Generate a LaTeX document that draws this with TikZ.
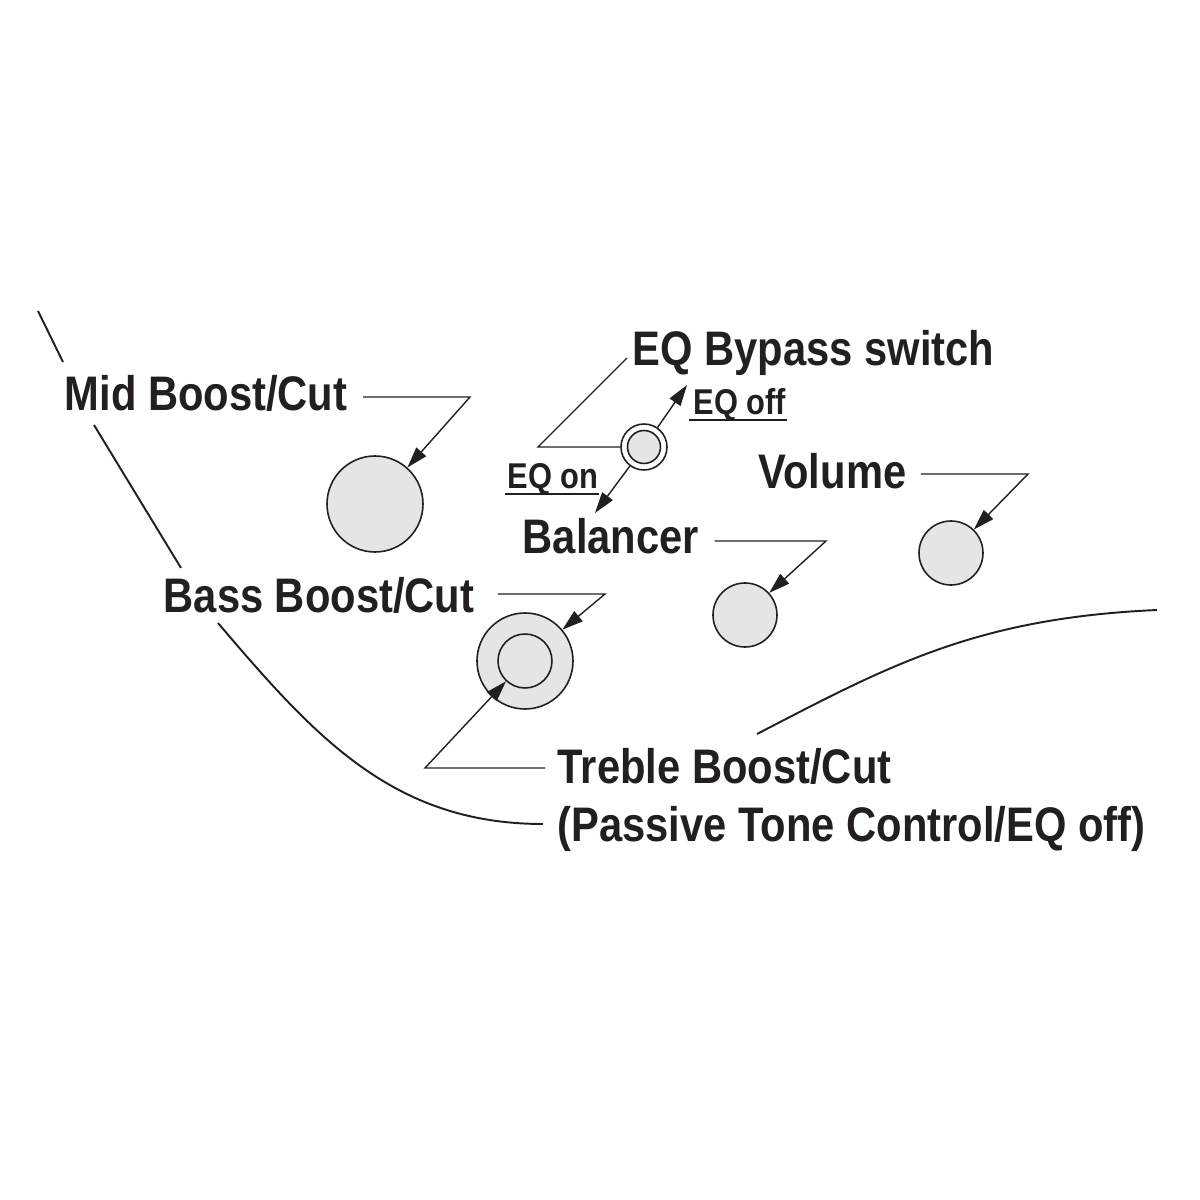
\documentclass[tikz,border=0pt]{standalone}
\usepackage{fontspec}
\setmainfont{Liberation Sans}[FakeStretch=0.86]
\usetikzlibrary{arrows.meta}
\definecolor{inkblack}{RGB}{35,31,32}
\definecolor{knobgray}{RGB}{228,229,231}

\begin{document}
\begin{tikzpicture}[
    knob/.style={circle, draw=inkblack, fill=knobgray, line width=0.45pt, inner sep=0pt},
    lbl/.style={anchor=base west, inner sep=0pt, text=inkblack, font=\bfseries\fontsize{13.8}{16}\selectfont},
    small/.style={anchor=base west, inner sep=0pt, text=inkblack, font=\bfseries\fontsize{10.2}{12}\selectfont},
    leader/.style={inkblack, line width=0.4pt, -{Triangle[length=2.1mm, width=1.3mm]}},
    plain/.style={inkblack, line width=0.4pt},
    body/.style={inkblack, line width=0.55pt}
]
    \useasboundingbox (0,0) rectangle (12,12);

    % Body outline
    \draw[body] (0.38,8.89) -- (0.63,8.38);
    \draw[body] (0.94,7.75) -- (1.81,6.32);
    \draw[body] (2.18,5.77) .. controls (3.15,4.63) and (3.93,3.76) .. (5.43,3.76);
    \draw[body] (7.57,4.66) .. controls (8.90,5.35) and (9.77,5.82) .. (11.57,5.90);

    % Knobs and switch
    \node[knob, minimum size=0.96cm] (mid) at (3.75,6.96) {};
    \node[knob, minimum size=0.96cm] (bass) at (5.25,5.39) {};
    \node[knob, minimum size=0.54cm] (treble) at (5.25,5.39) {};
    \node[knob, minimum size=0.64cm] (bal) at (7.45,5.85) {};
    \node[knob, minimum size=0.64cm] (vol) at (9.51,6.47) {};
    \node[knob, fill=white, minimum size=0.46cm] (sw) at (6.44,7.53) {};
    \node[knob, minimum size=0.33cm] at (sw) {};

    % Labels
    \node[lbl] (midlbl) at (0.64,7.89) {Mid Boost/Cut};
    \node[lbl] (eqlbl) at (6.32,8.34) {EQ Bypass switch};
    \node[small] (offlbl) at (6.93,7.85) {EQ off};
    \node[small] (onlbl) at (5.07,7.11) {EQ on};
    \node[lbl] (vollbl) at (7.58,7.11) {Volume};
    \node[lbl] (ballbl) at (5.22,6.46) {Balancer};
    \node[lbl] (basslbl) at (1.63,5.87) {Bass Boost/Cut};
    \node[lbl] (treblbl) at (5.57,4.16) {Treble Boost/Cut};
    \node[lbl] (paslbl) at (5.57,3.58) {(Passive Tone Control/EQ off)};

    % Leader bends
    \coordinate (midbend) at (4.70,8.03);
    \coordinate (swtop) at (6.27,8.42);
    \coordinate (swbend) at (5.38,7.53);
    \coordinate (offtip) at (6.87,8.15);
    \coordinate (ontip) at (5.95,6.87);
    \coordinate (volbend) at (10.28,7.26);
    \coordinate (balbend) at (8.26,6.59);
    \coordinate (bassbend) at (6.05,6.06);
    \coordinate (treblebend) at (4.25,4.32);

    \draw[leader] ([xshift=1.5mm]midlbl.east |- midbend) -- (midbend) -- (mid);
    \draw[plain] (swtop) -- (swbend) -- (sw);
    \draw[leader] (sw) -- (offtip);
    \draw[leader] (sw) -- (ontip);
    \draw[leader] ([xshift=1.4mm]vollbl.east |- volbend) -- (volbend) -- (vol);
    \draw[leader] ([xshift=1.5mm]ballbl.east |- balbend) -- (balbend) -- (bal);
    \draw[leader] ([xshift=2.3mm]basslbl.east |- bassbend) -- (bassbend) -- (bass);
    \draw[leader] ([xshift=-1.2mm]treblbl.west |- treblebend) -- (treblebend) -- (treble);

    % Underlines
    \draw[plain] ([xshift=-0.4mm, yshift=-0.5mm]offlbl.base west) -- ([yshift=-0.5mm]offlbl.base east);
    \draw[plain] ([xshift=-0.2mm, yshift=-0.5mm]onlbl.base west) -- ([yshift=-0.5mm]onlbl.base east);
\end{tikzpicture}
\end{document}
